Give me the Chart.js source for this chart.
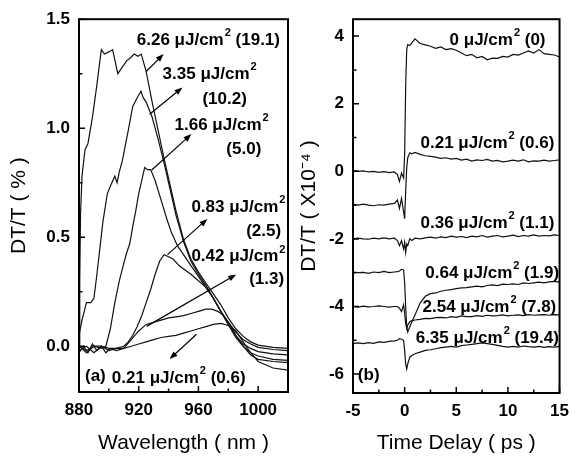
<!DOCTYPE html>
<html>
<head>
<meta charset="utf-8">
<script src="https://cdn.jsdelivr.net/npm/chart.js@4.4.0/dist/chart.umd.min.js"></script>
<style>
  html, body { margin: 0; padding: 0; background: #fff; }
  #wrap { position: relative; width: 577px; height: 462px; overflow: hidden; background: #fff; }
  canvas { position: absolute; top: 0; }
  #chartA { left: 0; }
  #chartB { left: 294px; }
</style>
</head>
<body>
<div id="wrap">
  <canvas id="chartA" width="296" height="462"></canvas>
  <canvas id="chartB" width="283" height="462"></canvas>
</div>
<script>
// ---- panel (a): spectra, DT/T (%) vs wavelength (nm)
const wl626 = [880, 880.5, 881, 882, 884, 886, 889, 892, 894, 895, 897, 900, 902.5, 906, 909, 912, 914, 917, 919.5, 921.7, 925, 929, 933, 937, 941, 945, 950, 955, 960, 965, 970, 975, 980, 985, 990, 995, 1000, 1010, 1020];
const dt626 = [0.0, 0.3, 0.6, 0.78, 0.9, 0.93, 1.05, 1.2, 1.31, 1.36, 1.34, 1.35, 1.36, 1.25, 1.28, 1.31, 1.32, 1.34, 1.33, 1.34, 1.26, 1.12, 0.99, 0.86, 0.74, 0.62, 0.49, 0.4, 0.34, 0.29, 0.24, 0.19, 0.13, 0.08, 0.045, 0.02, 0.005, -0.005, -0.01];

const wl335 = [880, 882, 885, 888, 890, 892, 894, 896, 899, 902, 904, 905.5, 907, 909, 911, 913, 916, 919, 921.5, 923, 925, 929, 933, 937, 941, 945, 950, 955, 960, 965, 970, 975, 980, 985, 990, 995, 1000, 1010, 1020];
const dt335 = [0.05, 0.12, 0.2, 0.2, 0.22, 0.33, 0.45, 0.57, 0.7, 0.75, 0.78, 0.75, 0.8, 0.85, 0.92, 0.99, 1.1, 1.14, 1.17, 1.14, 1.12, 1.05, 0.95, 0.84, 0.72, 0.6, 0.48, 0.39, 0.33, 0.28, 0.22, 0.16, 0.11, 0.065, 0.03, 0.01, -0.005, -0.015, -0.02];

const wl166 = [880, 885, 890, 895, 898, 901, 904, 907, 910, 912, 914, 916, 918, 920, 922, 924, 926, 928, 931, 935, 939, 942, 946, 950, 955, 960, 965, 970, 975, 980, 985, 990, 995, 1000, 1010, 1020];
const dt166 = [0.0, -0.02, 0.0, -0.01, 0.0, 0.08, 0.2, 0.3, 0.38, 0.43, 0.47, 0.55, 0.62, 0.7, 0.76, 0.82, 0.81, 0.81, 0.76, 0.67, 0.58, 0.52, 0.46, 0.42, 0.37, 0.32, 0.27, 0.22, 0.16, 0.1, 0.05, 0.01, -0.01, -0.025, -0.035, -0.04];

const wl083 = [880, 885, 890, 895, 900, 905, 910, 913, 916, 919, 922, 925, 928, 931, 934, 937, 940, 943, 947, 951, 955, 960, 965, 970, 975, 980, 985, 990, 995, 1000, 1010, 1020];
const dt083 = [0.0, -0.03, 0.0, 0.0, -0.01, -0.01, 0.0, 0.02, 0.05, 0.09, 0.14, 0.2, 0.26, 0.33, 0.39, 0.42, 0.41, 0.4, 0.37, 0.35, 0.33, 0.3, 0.27, 0.22, 0.16, 0.1, 0.04, 0.0, -0.03, -0.045, -0.06, -0.065];

const wl042 = [880, 885, 890, 895, 900, 905, 910, 915, 920, 925, 930, 935, 940, 945, 950, 955, 960, 965, 969, 973, 977, 981, 985, 990, 995, 1000, 1010, 1020];
const dt042 = [-0.02, 0.0, -0.03, 0.0, -0.02, -0.01, -0.01, 0.03, 0.07, 0.1, 0.11, 0.12, 0.13, 0.135, 0.14, 0.15, 0.16, 0.17, 0.17, 0.16, 0.14, 0.1, 0.05, 0.0, -0.04, -0.06, -0.07, -0.075];

const wl021 = [880, 883, 886, 889, 892, 895, 898, 901, 905, 910, 915, 920, 925, 930, 935, 940, 945, 950, 955, 960, 965, 970, 975, 980, 985, 990, 995, 1000, 1010, 1020];
const dt021 = [-0.03, 0.0, -0.03, 0.01, -0.02, 0.0, -0.03, -0.01, -0.02, -0.01, 0.0, 0.01, 0.02, 0.03, 0.04, 0.045, 0.05, 0.06, 0.07, 0.08, 0.09, 0.1, 0.105, 0.095, 0.07, 0.02, -0.03, -0.07, -0.1, -0.11];

const xTicksA = [880, 900, 920, 940, 960, 980, 1000, 1020];
const xLabelsA = [880, 920, 960, 1000];
const yTicksA = [0, 0.25, 0.5, 0.75, 1.0, 1.25, 1.5];
const yLabelsA = [0, 0.5, 1.0, 1.5];

// ---- panel (b): time traces, DT/T (x10^-4) vs delay (ps)
const delay = [-5, -4.5, -4, -3.5, -3, -2.5, -2, -1.5, -1, -0.7, -0.5, -0.3, -0.1, 0, 0.1, 0.2, 0.3, 0.5, 0.7, 1, 1.5, 2, 2.5, 3, 3.5, 4, 4.5, 5, 5.5, 6, 6.5, 7, 7.5, 8, 8.5, 9, 9.5, 10, 10.5, 11, 11.5, 12, 12.5, 13, 13.5, 14, 14.5, 15];
const tr000 = [0.02, 0.0, 0.01, -0.02, 0.0, -0.03, -0.01, -0.04, -0.02, -0.1, -0.3, -0.05, -0.2, 0.5, 2.5, 3.6, 3.75, 3.72, 3.8, 3.92, 3.78, 3.74, 3.7, 3.64, 3.68, 3.6, 3.63, 3.58, 3.5, 3.42, 3.46, 3.36, 3.4, 3.3, 3.35, 3.34, 3.4, 3.38, 3.46, 3.44, 3.5, 3.56, 3.5, 3.6, 3.48, 3.46, 3.44, 3.38];
const tr021 = [-0.98, -1.0, -0.97, -1.0, -1.02, -0.99, -1.0, -0.97, -0.95, -0.85, -1.1, -0.8, -1.2, -1.4, -0.6, 0.1, 0.4, 0.55, 0.52, 0.56, 0.5, 0.46, 0.44, 0.42, 0.38, 0.4, 0.36, 0.38, 0.33, 0.36, 0.3, 0.34, 0.32, 0.35, 0.3, 0.32, 0.28, 0.3, 0.33, 0.3, 0.34, 0.28, 0.31, 0.3, 0.33, 0.3, 0.32, 0.34];
const tr036 = [-2.0, -1.98, -2.0, -2.01, -1.98, -2.0, -1.97, -2.0, -1.98, -2.05, -2.2, -2.05, -2.3, -2.1, -2.4, -2.15, -2.2, -2.0, -2.05, -1.98, -2.0, -1.97, -1.95, -1.98, -1.94, -1.96, -1.92, -1.95, -1.93, -1.96, -1.92, -1.94, -1.9, -1.95, -1.92, -1.9, -1.94, -1.92, -1.89, -1.93, -1.9, -1.92, -1.88, -1.92, -1.9, -1.91, -1.88, -1.9];
const tr064 = [-2.98, -3.0, -2.99, -3.02, -2.98, -3.0, -2.96, -3.0, -2.98, -2.97, -2.95, -2.9, -2.92, -3.3, -4.0, -4.6, -4.75, -4.6, -4.45, -4.25, -3.9, -3.7, -3.62, -3.6, -3.55, -3.52, -3.5, -3.47, -3.45, -3.44, -3.42, -3.4, -3.42, -3.38, -3.36, -3.38, -3.34, -3.35, -3.33, -3.35, -3.3, -3.32, -3.3, -3.28, -3.3, -3.27, -3.26, -3.28];
const tr254 = [-4.0, -4.02, -3.99, -4.01, -4.0, -3.98, -4.0, -4.02, -4.0, -4.0, -4.05, -4.15, -3.95, -4.2, -4.5, -4.65, -4.55, -4.45, -4.42, -4.4, -4.38, -4.35, -4.36, -4.33, -4.32, -4.34, -4.3, -4.32, -4.28, -4.3, -4.3, -4.27, -4.29, -4.26, -4.28, -4.27, -4.25, -4.28, -4.26, -4.25, -4.27, -4.24, -4.26, -4.25, -4.24, -4.26, -4.24, -4.25];
const tr635 = [-5.1, -5.08, -5.1, -5.07, -5.09, -5.05, -5.06, -5.03, -5.02, -5.0, -4.95, -4.97, -5.0, -5.3, -5.7, -5.85, -5.7, -5.5, -5.45, -5.4, -5.35, -5.3, -5.28, -5.25, -5.22, -5.2, -5.18, -5.2, -5.16, -5.14, -5.12, -5.1, -5.08, -5.1, -5.12, -5.15, -5.18, -5.2, -5.18, -5.2, -5.17, -5.19, -5.2, -5.18, -5.21, -5.19, -5.2, -5.18];

const xTicksB = [-5, -2.5, 0, 2.5, 5, 7.5, 10, 12.5, 15];
const xLabelsB = [-5, 0, 5, 10, 15];
const yTicksB = [-6, -5, -4, -3, -2, -1, 0, 1, 2, 3, 4];
const yLabelsB = [-6, -4, -2, 0, 2, 4];

// ---- annotations (data coordinates): labels and arrows
const notesA = [
  { text: '6.26 μJ/cm² (19.1)', x: 918.7, y: 1.405 },
  { text: '3.35 μJ/cm²', x: 936, y: 1.247 },
  { text: '(10.2)', x: 962.7, y: 1.132 },
  { text: '1.66 μJ/cm²', x: 944, y: 1.014 },
  { text: '(5.0)', x: 978.7, y: 0.904 },
  { text: '0.83 μJ/cm²', x: 955.3, y: 0.639 },
  { text: '(2.5)', x: 992, y: 0.525 },
  { text: '0.42 μJ/cm²', x: 955.3, y: 0.411 },
  { text: '(1.3)', x: 994, y: 0.306 },
  { text: '(a)', x: 884, y: -0.137 },
  { text: '0.21 μJ/cm² (0.6)', x: 902, y: -0.146 }
];
const arrowsA = [
  [925, 1.26, 936.7, 1.34],
  [927.3, 1.064, 949.3, 1.187],
  [928.7, 0.808, 955.3, 0.973],
  [939.3, 0.42, 966, 0.584],
  [925.3, 0.091, 985.3, 0.329],
  [958.7, 0.055, 940.7, -0.059]
];
const notesB = [
  { text: '0 μJ/cm² (0)', x: 4.35, y: 3.88 },
  { text: '0.21 μJ/cm² (0.6)', x: 1.54, y: 0.83 },
  { text: '0.36 μJ/cm² (1.1)', x: 1.54, y: -1.54 },
  { text: '0.64 μJ/cm² (1.9)', x: 2.0, y: -3.02 },
  { text: '2.54 μJ/cm² (7.8)', x: 1.73, y: -4.02 },
  { text: '6.35 μJ/cm² (19.4)', x: 1.07, y: -4.94 },
  { text: '(b)', x: -4.53, y: -6.04 }
];

Chart.defaults.font.family = '"Liberation Sans", Arial, sans-serif';
Chart.defaults.color = '#000';

const FONT_LABEL = 'bold 17px "Liberation Sans", Arial, sans-serif';
const FONT_SUP = 'bold 11px "Liberation Sans", Arial, sans-serif';

function drawLabel(ctx, text, x, y) {
  const parts = text.split('²');
  ctx.textBaseline = 'middle';
  ctx.textAlign = 'left';
  ctx.fillStyle = '#000';
  ctx.font = FONT_LABEL;
  ctx.fillText(parts[0], x, y);
  if (parts.length > 1) {
    let cx = x + ctx.measureText(parts[0]).width;
    ctx.font = FONT_SUP;
    ctx.fillText('2', cx + 1, y - 7);
    cx += ctx.measureText('2').width + 1;
    ctx.font = FONT_LABEL;
    ctx.fillText(parts[1], cx, y);
  }
}

function drawArrow(ctx, x1, y1, x2, y2) {
  const ang = Math.atan2(y2 - y1, x2 - x1);
  const len = 8, half = 3;
  ctx.strokeStyle = '#000';
  ctx.lineWidth = 1.2;
  ctx.beginPath();
  ctx.moveTo(x1, y1);
  ctx.lineTo(x2 - Math.cos(ang) * len * 0.8, y2 - Math.sin(ang) * len * 0.8);
  ctx.stroke();
  ctx.beginPath();
  ctx.moveTo(x2, y2);
  ctx.lineTo(x2 - Math.cos(ang) * len - Math.sin(ang) * half, y2 - Math.sin(ang) * len + Math.cos(ang) * half);
  ctx.lineTo(x2 - Math.cos(ang) * len + Math.sin(ang) * half, y2 - Math.sin(ang) * len - Math.cos(ang) * half);
  ctx.closePath();
  ctx.fillStyle = '#000';
  ctx.fill();
}

// frame, inward ticks and annotations
function framePlugin(xMajor, yMajor, notes, arrows) {
  return {
    id: 'frame',
    afterDatasetsDraw(chart) {
      const { ctx, chartArea: a, scales: { x, y } } = chart;
      ctx.save();
      ctx.strokeStyle = '#000';
      ctx.lineWidth = 2;
      ctx.strokeRect(a.left, a.top, a.right - a.left, a.bottom - a.top);
      ctx.lineWidth = 1.5;
      ctx.beginPath();
      x.ticks.forEach(t => {
        const px = x.getPixelForValue(t.value);
        const l = xMajor.includes(t.value) ? 6 : 3.5;
        ctx.moveTo(px, a.bottom);
        ctx.lineTo(px, a.bottom - l);
      });
      y.ticks.forEach(t => {
        const py = y.getPixelForValue(t.value);
        const l = yMajor.includes(t.value) ? 6 : 3.5;
        ctx.moveTo(a.left, py);
        ctx.lineTo(a.left + l, py);
      });
      ctx.stroke();
      arrows.forEach(r => drawArrow(ctx, x.getPixelForValue(r[0]), y.getPixelForValue(r[1]),
        x.getPixelForValue(r[2]), y.getPixelForValue(r[3])));
      notes.forEach(n => drawLabel(ctx, n.text, x.getPixelForValue(n.x), y.getPixelForValue(n.y)));
      ctx.restore();
    }
  };
}

function series(xs, ys) {
  return {
    data: xs.map((v, i) => ({ x: v, y: ys[i] })),
    showLine: true,
    borderColor: '#111',
    borderWidth: 1.2,
    pointRadius: 0,
    tension: 0
  };
}

function makeChart(id, datasets, opt) {
  return new Chart(document.getElementById(id), {
    type: 'scatter',
    data: { datasets },
    options: {
      responsive: false,
      animation: false,
      layout: { padding: opt.padding },
      plugins: { legend: { display: false }, tooltip: { enabled: false } },
      scales: {
        x: {
          type: 'linear', min: opt.xMin, max: opt.xMax,
          afterBuildTicks: s => { s.ticks = opt.xTicks.map(v => ({ value: v })); },
          afterFit: s => { s.height = opt.xHeight; },
          grid: { display: false, drawTicks: false },
          border: { display: false },
          ticks: {
            autoSkip: false, maxRotation: 0, padding: 8,
            font: { size: 17, weight: 'bold' }, color: '#000',
            callback: v => opt.xLabels.includes(v) ? String(v) : ''
          },
          title: { display: true, text: opt.xTitle, font: { size: 21 }, color: '#000', padding: { top: 0, bottom: 6 } }
        },
        y: {
          type: 'linear', min: opt.yMin, max: opt.yMax,
          afterBuildTicks: s => { s.ticks = opt.yTicks.map(v => ({ value: v })); },
          afterFit: s => { s.width = opt.yWidth; },
          grid: { display: false, drawTicks: false },
          border: { display: false },
          ticks: {
            autoSkip: false, padding: 9,
            font: { size: 17, weight: 'bold' }, color: '#000',
            callback: v => opt.yLabels.includes(v) ? opt.fmt(v) : ''
          },
          title: { display: true, text: opt.yTitle, font: { size: 21 }, color: '#000', padding: { top: opt.yTitlePad, bottom: 0 } }
        }
      }
    },
    plugins: [framePlugin(opt.xLabels, opt.yLabels, opt.notes, opt.arrows)]
  });
}

makeChart('chartA', [
  series(wl626, dt626), series(wl335, dt335), series(wl166, dt166),
  series(wl083, dt083), series(wl042, dt042), series(wl021, dt021)
], {
  padding: { left: 0, right: 6, top: 16, bottom: 0 },
  xMin: 880, xMax: 1020, xTicks: xTicksA, xLabels: xLabelsA, xHeight: 70,
  yMin: -0.21, yMax: 1.5, yTicks: yTicksA, yLabels: yLabelsA, yWidth: 79,
  fmt: v => v.toFixed(1),
  xTitle: 'Wavelength ( nm )', yTitle: 'DT/T ( % )', yTitlePad: 7,
  notes: notesA, arrows: arrowsA
});

makeChart('chartB', [
  series(delay, tr000), series(delay, tr021), series(delay, tr036),
  series(delay, tr064), series(delay, tr254), series(delay, tr635)
], {
  padding: { left: 0, right: 10, top: 18, bottom: 0 },
  xMin: -5, xMax: 15, xTicks: xTicksB, xLabels: xLabelsB, xHeight: 69,
  yMin: -6.56, yMax: 4.5, yTicks: yTicksB, yLabels: yLabelsB, yWidth: 59,
  fmt: v => String(v),
  xTitle: 'Time Delay ( ps )', yTitle: 'DT/T ( X10⁻⁴ )', yTitlePad: 3,
  notes: notesB, arrows: []
});
</script>
</body>
</html>
